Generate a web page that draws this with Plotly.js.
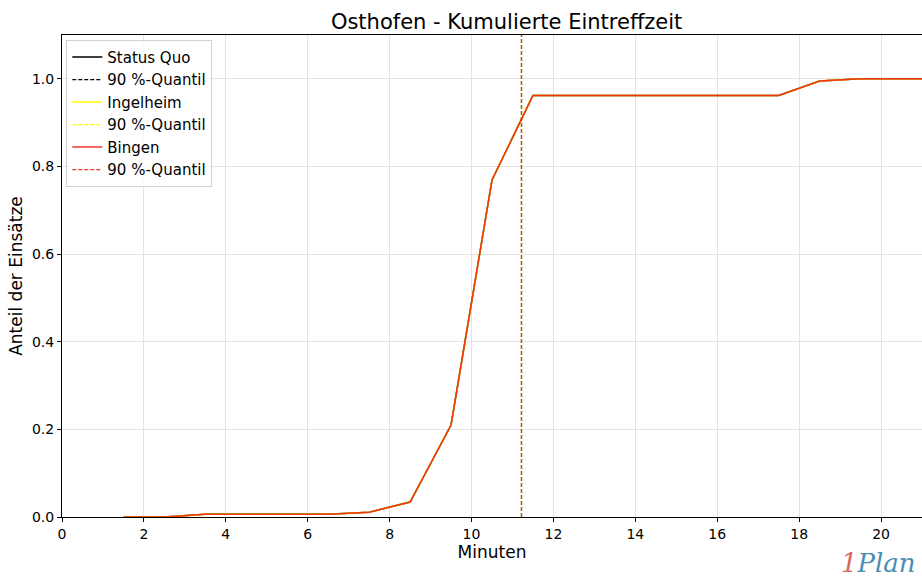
<!DOCTYPE html>
<html><head><meta charset="utf-8">
<script src="https://cdn.plot.ly/plotly-3.0.1.min.js"></script>
<style>body{margin:0;padding:0;background:#fff}#chart{width:922px;height:579px}</style>
</head><body><div id="chart"></div>
<script>
const minutes = [1.5, 2.5, 3.5, 4.5, 5.5, 6.5, 7.5, 8.5, 9.5, 10.5, 11.5, 12.5, 13.5, 14.5, 15.5, 16.5, 17.5, 18.5, 19.5, 20.5, 21.5];
const statusQuo = [0, 0, 0.006, 0.006, 0.006, 0.006, 0.011, 0.034, 0.21, 0.769, 0.962, 0.962, 0.962, 0.962, 0.962, 0.962, 0.962, 0.995, 1.0, 1.0, 1.0];
const ingelheim = [0, 0, 0.006, 0.006, 0.006, 0.006, 0.011, 0.034, 0.21, 0.769, 0.962, 0.962, 0.962, 0.962, 0.962, 0.962, 0.962, 0.995, 1.0, 1.0, 1.0];
const bingen = [0, 0, 0.006, 0.006, 0.006, 0.006, 0.011, 0.034, 0.21, 0.769, 0.962, 0.962, 0.962, 0.962, 0.962, 0.962, 0.962, 0.995, 1.0, 1.0, 1.0];
const quantiles = [11.22, 11.22, 11.22];
const names = ["Status Quo", "Ingelheim", "Bingen"];
const colors = ["#000000", "#ffff00", "rgba(240,20,10,0.85)"];
const series = [statusQuo, ingelheim, bingen];

const traces = [];
for (let i = 0; i < 3; i++) {
  traces.push({x: minutes, y: series[i], mode: "lines", name: names[i],
    line: {color: colors[i], width: 1.5}});
  traces.push({x: [quantiles[i], quantiles[i]], y: [0, 1.1], mode: "lines", name: "90 %-Quantil",
    line: {color: colors[i], width: 1.2, dash: "4px,2px"}});
}
const font = "DejaVu Sans, sans-serif";
const layout = {
  width: 922, height: 579,
  margin: {l: 62, r: 0, t: 35, b: 62},
  paper_bgcolor: "#fff", plot_bgcolor: "#fff",
  title: {text: "Osthofen - Kumulierte Eintreffzeit", font: {family: font, size: 21, color: "#000"}, x: 0.517, xanchor: "center", xref: "paper", y: 0.975, yanchor: "top"},
  font: {family: font, color: "#000"},
  xaxis: {range: [0, 21], tickvals: [0,2,4,6,8,10,12,14,16,18,20], ticks: "outside", ticklen: 4, tickcolor: "#000",
    tickfont: {size: 14}, showgrid: true, gridcolor: "#e3e3e3", gridwidth: 1, zeroline: false,
    showline: true, linecolor: "#000", linewidth: 1, mirror: true,
    title: {text: "Minuten", font: {size: 17}, standoff: 4}},
  yaxis: {range: [0, 1.1], tickvals: [0, 0.2, 0.4, 0.6, 0.8, 1.0], ticktext: ["0.0","0.2","0.4","0.6","0.8","1.0"],
    ticks: "outside", ticklen: 4, tickcolor: "#000", tickfont: {size: 14},
    showgrid: true, gridcolor: "#e3e3e3", gridwidth: 1, zeroline: false,
    showline: true, linecolor: "#000", linewidth: 1, mirror: true,
    title: {text: "Anteil der Einsätze", font: {size: 17}, standoff: 4}},
  legend: {x: 0.005, y: 0.99, xanchor: "left", yanchor: "top", bgcolor: "rgba(255,255,255,0.8)",
    bordercolor: "#d0d0d0", borderwidth: 1, font: {size: 15}, tracegroupgap: 0, itemwidth: 30},
  showlegend: true,
  annotations: [
    {xref: "paper", yref: "paper", x: 0.995, y: -0.06, xanchor: "right", yanchor: "top", showarrow: false,
     text: "<span style='color:#d9675e'>1</span><span style='color:#4a8db5'>Plan</span>",
     font: {family: "DejaVu Serif, serif", size: 26, style: "italic"}}
  ]
};
Plotly.newPlot("chart", traces, layout, {displayModeBar: false});
</script></body></html>
